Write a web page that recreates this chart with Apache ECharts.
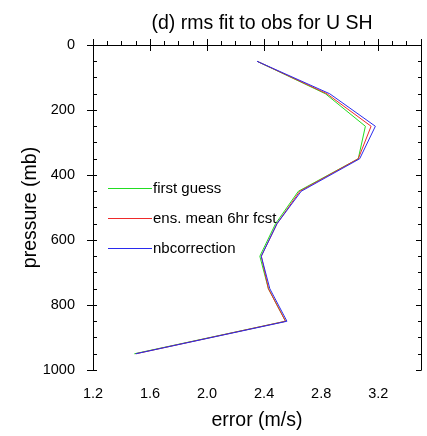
<!DOCTYPE html>
<html>
<head>
<meta charset="utf-8">
<script src="https://cdn.jsdelivr.net/npm/echarts@6/dist/echarts.min.js"></script>
<style>
  html, body { margin: 0; padding: 0; background: #fff; }
  #chart { width: 427px; height: 436px; }
</style>
</head>
<body>
<div id="chart"></div>
<script>
// pressure levels (mb) and rms error (m/s) per experiment
const levels = [50, 150, 250, 350, 450, 550, 650, 750, 850, 950]
const firstGuess = [2.35, 2.83, 3.11, 3.06, 2.64, 2.48, 2.37, 2.43, 2.55, 1.49]
const ensMean = [2.35, 2.84, 3.15, 3.06, 2.65, 2.49, 2.38, 2.43, 2.55, 1.50]
const nbCorrection = [2.35, 2.86, 3.18, 3.07, 2.66, 2.49, 2.38, 2.44, 2.56, 1.50]
const seriesNames = ['first guess', 'ens. mean 6hr fcst', 'nbcorrection']
const seriesColors = ['#22dd22', '#ee2a2a', '#2a2aee']

const font = 'Liberation Sans, Arial, Helvetica, sans-serif'
const black = '#000'

function pairs (vals) {
  return vals.map((v, i) => [v, levels[i]])
}

// helper for the frame axes (ticks only, no labels)
function frameX (position, interval, len, inside) {
  return {
    type: 'value', position, min: 1.2, max: 3.5, interval,
    axisLine: { show: true, lineStyle: { color: black, width: 1 } },
    axisTick: { show: true, inside, length: len, lineStyle: { color: black } },
    axisLabel: { show: false },
    splitLine: { show: false }
  }
}
function frameY (position, interval, len, inside) {
  return {
    type: 'value', position, inverse: true, min: 0, max: 1000, interval,
    axisLine: { show: true, lineStyle: { color: black, width: 1 } },
    axisTick: { show: true, inside, length: len, lineStyle: { color: black } },
    axisLabel: { show: false },
    splitLine: { show: false }
  }
}

const chart = echarts.init(document.getElementById('chart'))
chart.setOption({
  animation: false,
  backgroundColor: '#fff',
  textStyle: { fontFamily: font },
  title: {
    text: '(d) rms fit to obs for U SH',
    left: 257,
    textAlign: 'center',
    top: 9,
    textStyle: { fontSize: 19.5, fontWeight: 'normal', color: black, fontFamily: font }
  },
  grid: { left: 93, right: 6, top: 45, bottom: 64 },
  legend: {
    orient: 'vertical',
    left: 108,
    top: 181,
    padding: 0,
    itemWidth: 44,
    itemHeight: 1,
    itemGap: 15,
    icon: 'rect',
    data: seriesNames.map((n, i) => ({ name: n, itemStyle: { color: seriesColors[i] } })),
    textStyle: { fontSize: 15, color: black, fontFamily: font, padding: [0, 0, 0, -4] }
  },
  xAxis: [
    {
      type: 'value', position: 'bottom', min: 1.2, max: 3.5, interval: 0.4,
      name: 'error (m/s)', nameLocation: 'middle', nameGap: 41, nameMoveOverlap: false,
      nameTextStyle: { fontSize: 19.5, color: black, fontFamily: font },
      axisLine: { show: true, lineStyle: { color: black, width: 1 } },
      axisTick: { show: true, inside: false, length: 6, lineStyle: { color: black } },
      axisLabel: {
        fontSize: 14.5, color: black, margin: 16, fontFamily: font, showMaxLabel: false,
        formatter: v => v.toFixed(1)
      },
      splitLine: { show: false }
    },
    frameX('bottom', 0.1, 4, true),
    frameX('top', 0.4, 6, false),
    frameX('top', 0.1, 4, false)
  ],
  yAxis: [
    {
      type: 'value', position: 'left', inverse: true, min: 0, max: 1000, interval: 200,
      name: 'pressure (mb)', nameLocation: 'middle', nameGap: 52, nameMoveOverlap: false,
      nameTextStyle: { fontSize: 19.5, color: black, fontFamily: font },
      axisLine: { show: true, lineStyle: { color: black, width: 1 } },
      axisTick: { show: true, inside: false, length: 6, lineStyle: { color: black } },
      axisLabel: { fontSize: 14.5, color: black, margin: 18, fontFamily: font, formatter: v => String(v) },
      splitLine: { show: false }
    },
    frameY('left', 50, 4, true),
    frameY('right', 200, 5, true),
    frameY('right', 50, 3, true)
  ],
  series: [firstGuess, ensMean, nbCorrection].map((vals, i) => ({
    name: seriesNames[i],
    type: 'line',
    xAxisIndex: 0,
    yAxisIndex: 0,
    data: pairs(vals),
    showSymbol: false,
    symbol: 'none',
    itemStyle: { color: seriesColors[i] },
    lineStyle: { width: 1, color: seriesColors[i] }
  }))
})
</script>
</body>
</html>
